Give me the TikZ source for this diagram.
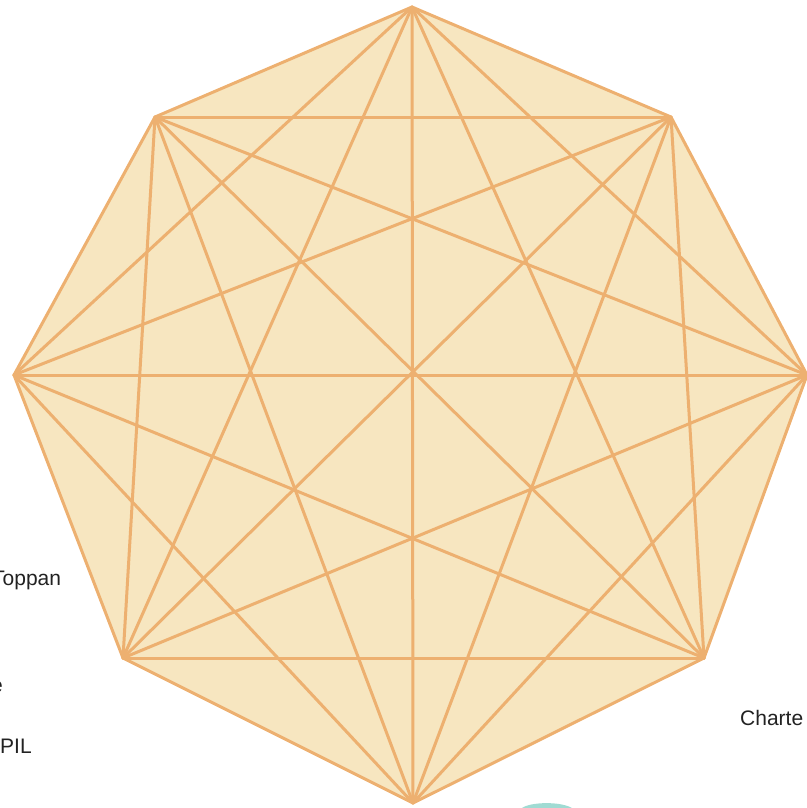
\documentclass[tikz,border=0pt]{standalone}
\usepackage{fontspec}
\setmainfont{Liberation Sans}
\definecolor{edgeorange}{RGB}{237,176,112}
\definecolor{fillwheat}{RGB}{247,230,192}
\definecolor{labelgray}{RGB}{34,34,34}
\definecolor{tealmark}{RGB}{120,204,192}

\begin{document}
\begin{tikzpicture}[x=1pt,y=-1pt,
  link/.style={edgeorange,line width=3pt,line cap=round,line join=round},
  firm/.style={labelgray,font=\fontsize{21}{24}\selectfont,inner sep=0pt}]
\useasboundingbox (0,0) rectangle (806,808);
% corners of the octagon
\coordinate (n) at (412,7);
\coordinate (ne) at (671,117);
\coordinate (e) at (807,375);
\coordinate (se) at (704,658);
\coordinate (s) at (413,803);
\coordinate (sw) at (123,658);
\coordinate (w) at (14,375);
\coordinate (nw) at (155,117);
\fill[fillwheat] (n) -- (ne) -- (e) -- (se) -- (s) -- (sw) -- (w) -- (nw) -- cycle;
% every corner joined to every other
\foreach \a [count=\i] in {n,ne,e,se,s,sw,w,nw}
  \foreach \b [count=\j] in {n,ne,e,se,s,sw,w,nw}
    {\ifnum\i<\j \draw[link] (\a) -- (\b); \fi}
\node[firm,anchor=base west] (toppan) at (-8,585) {Toppan};
\node[firm,anchor=base east] (frag) at (3,692) {e};
\node[firm,anchor=base west] (pil) at (0,753) {PIL};
\node[firm,anchor=base west] (charte) at (740,725) {Charte};
\fill[tealmark,opacity=0.7] (522,808) .. controls (530,802) and (560,801) .. (572,808) -- cycle;
\end{tikzpicture}
\end{document}
